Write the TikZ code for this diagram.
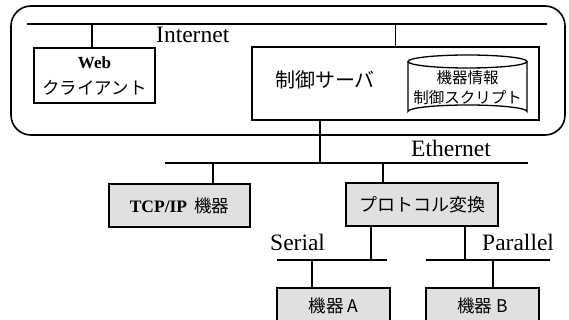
\documentclass[tikz,border=0pt]{standalone}
\usepackage{fontspec}
\setmainfont{Liberation Serif}[BoldFont={Liberation Serif Bold}]
\newfontfamily\jp{Noto Sans CJK JP}
\newfontfamily\serbold{Liberation Serif Bold}
\begin{document}
\begin{tikzpicture}[x=1pt,y=-1pt,
  bus/.style={line width=1.3pt},
  wire/.style={line width=1.2pt},
  plainbox/.style={draw,line width=1.4pt,inner sep=0pt,align=center},
  graybox/.style={plainbox,fill=black!12},
  txt/.style={inner sep=0pt},
  lbl/.style={font=\fontsize{23.5}{25}\selectfont,inner sep=0pt,anchor=base west}]
\useasboundingbox (0,0) rectangle (569,320);
% outer frame
\draw[line width=1.6pt,rounded corners=20pt] (11,6) rectangle (565,135);
% buses
\coordinate (inL) at (27,24); \coordinate (inR) at (547,24);
\coordinate (etL) at (165,163); \coordinate (etR) at (528,163);
\coordinate (seL) at (277,260); \coordinate (seR) at (387,260);
\coordinate (paL) at (426,260); \coordinate (paR) at (550,260);
\draw[bus] (inL) -- (inR);
\draw[bus] (etL) -- (etR);
\draw[bus] (seL) -- (seR);
\draw[bus] (paL) -- (paR);
% labels
\node[lbl] (tin) at (156,43) {Internet};
\node[lbl] (teth) at (411,157) {Ethernet};
\node[lbl] (tser) at (270,250) {Serial};
\node[lbl] (tpar) at (482,250) {Parallel};
% boxes
\node[plainbox,minimum width=121pt,minimum height=55pt] (web) at (94.5,75.5) {};
\node[txt,font=\serbold\fontsize{17}{18}\selectfont] (webt1) at (94.5,63) {Web};
\node[txt,font=\jp\fontsize{17.5}{20}\selectfont] (webt2) at (94.5,88) {クライアント};
\node[plainbox,minimum width=287pt,minimum height=73pt] (srv) at (395.5,83.5) {};
\node[txt,font=\jp\fontsize{20}{22}\selectfont] (srvt) at (325,80) {制御サーバ};
% cylinder
\draw[line width=1.3pt] (408,61.5) -- (408,111.5)
  arc[start angle=180,end angle=0,x radius=59.5pt,y radius=6.5pt] -- (527,61.5);
\draw[line width=1.3pt] (467.5,61.5) ellipse[x radius=59.5pt,y radius=6.5pt];
\node[txt,font=\jp\fontsize{15.5}{20}\selectfont] (db1) at (467.5,78) {機器情報};
\node[txt,font=\jp\fontsize{15.5}{20}\selectfont] (db2) at (467.5,98) {制御スクリプト};
\node[graybox,minimum width=141pt,minimum height=43pt] (tcp) at (179.5,205.5)
  {{\serbold\fontsize{17.5}{19}\selectfont TCP/IP}\hspace{7pt}{\jp\fontsize{17.5}{18}\selectfont 機器}};
\node[graybox,minimum width=152pt,minimum height=43pt,font=\jp\fontsize{18}{20}\selectfont] (prt) at (422,204.5) {プロトコル変換};
\node[graybox,minimum width=113pt,minimum height=36pt,font=\jp\fontsize{17.5}{20}\selectfont] (ma) at (333.5,306) {機器 A};
\node[graybox,minimum width=113pt,minimum height=36pt,font=\jp\fontsize{17.5}{20}\selectfont] (mb) at (482.5,306) {機器 B};
% connectors
\coordinate (c1) at (92,24); \draw[wire] (c1) -- (c1 |- web.north);
\coordinate (c2) at (395.5,24); \draw[wire] (c2) -- (srv.north);
\coordinate (c3) at (320,163); \draw[wire] (c3 |- srv.south) -- (c3);
\coordinate (c4) at (213,163); \draw[wire] (c4) -- (c4 |- tcp.north);
\coordinate (c5) at (383,163); \draw[wire] (c5) -- (c5 |- prt.north);
\coordinate (c6) at (371,260); \draw[wire] (c6 |- prt.south) -- (c6);
\coordinate (c7) at (465,260); \draw[wire] (c7 |- prt.south) -- (c7);
\coordinate (c8) at (312,260); \draw[wire] (c8) -- (c8 |- ma.north);
\coordinate (c9) at (493,260); \draw[wire] (c9) -- (c9 |- mb.north);
\end{tikzpicture}
\end{document}
